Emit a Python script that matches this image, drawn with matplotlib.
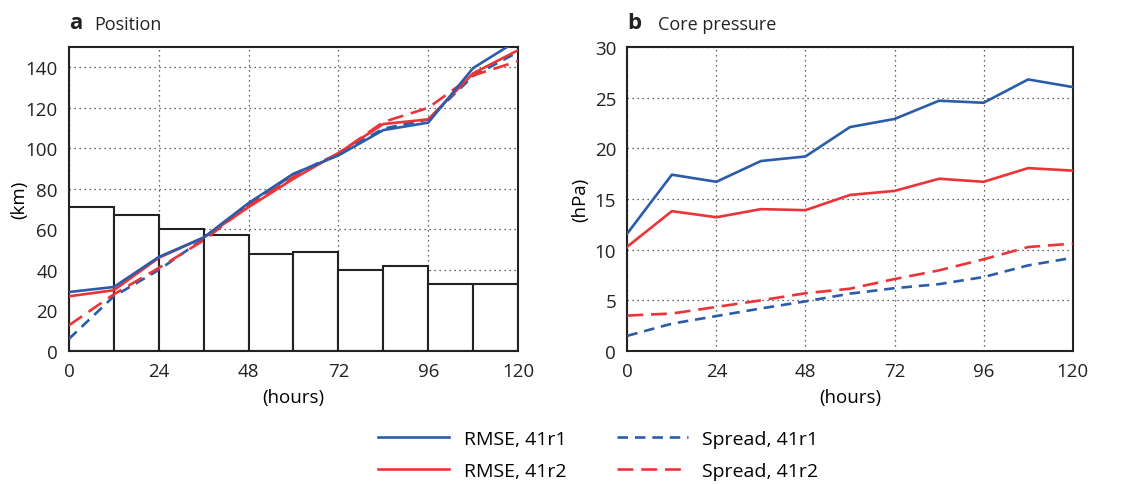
import numpy as np
import matplotlib
matplotlib.use('Agg')
import matplotlib.pyplot as plt

plt.rcParams['font.family'] = ['Open Sans', 'DejaVu Sans']

hours = [0, 12, 24, 36, 48, 60, 72, 84, 96, 108, 120]

# panel a: position error (km)
bar_left = [0, 12, 24, 36, 48, 60, 72, 84, 96, 108]
bar_height = [71, 67, 60, 57, 48, 49, 40, 42, 33, 33]
pos_rmse_41r1 = [29.1, 31.6, 46.4, 56, 73, 87.5, 96.5, 109, 112.7, 139.6, 153.4]
pos_rmse_41r2 = [27, 30, 46, 56, 71, 85, 97.7, 112, 114.3, 137, 148.4]
pos_spread_41r1 = [6, 27, 40, 55.4, 72.7, 87, 97.4, 109.7, 114.3, 135.7, 147.5]
pos_spread_41r2 = [12.7, 28, 41, 54.6, 71.9, 85.9, 97.4, 113, 120, 136, 143]

# panel b: core pressure error (hPa)
prs_rmse_41r1 = [11.6, 17.4, 16.7, 18.75, 19.2, 22.1, 22.9, 24.7, 24.5, 26.8, 26.05]
prs_rmse_41r2 = [10.3, 13.8, 13.2, 14.0, 13.9, 15.4, 15.8, 17.0, 16.7, 18.05, 17.8]
prs_spread_41r1 = [1.5, 2.7, 3.45, 4.2, 4.9, 5.66, 6.2, 6.6, 7.3, 8.45, 9.2]
prs_spread_41r2 = [3.5, 3.7, 4.35, 5.0, 5.7, 6.15, 7.1, 7.96, 9.05, 10.26, 10.6]

blue = '#2a5caa'
red = '#ee3338'
lw = 1.9
blue_dash = (0, (4, 2.6))
red_dash = (0, (6, 3))

fig = plt.figure(figsize=(11.42, 4.85), dpi=100)
ax1 = fig.add_axes([0.0604, 0.2742, 0.3932, 0.6268])
ax2 = fig.add_axes([0.5493, 0.2742, 0.39, 0.6268])

ax1.bar(bar_left, bar_height, width=12, align='edge', facecolor='white',
        edgecolor='#222222', linewidth=1.5, zorder=2)
ax1.plot(hours, pos_spread_41r1, color=blue, lw=lw, ls=blue_dash, zorder=3)
ax1.plot(hours, pos_spread_41r2, color=red, lw=lw, ls=red_dash, zorder=3)
ax1.plot(hours, pos_rmse_41r2, color=red, lw=lw, zorder=4)
ax1.plot(hours, pos_rmse_41r1, color=blue, lw=lw, zorder=4)
ax1.set_ylim(0, 150)
ax1.set_yticks(range(0, 141, 20))
ax1.set_ylabel('(km)', fontsize=13.5, labelpad=-2)

l1, = ax2.plot(hours, prs_rmse_41r1, color=blue, lw=lw, zorder=4)
l2, = ax2.plot(hours, prs_rmse_41r2, color=red, lw=lw, zorder=4)
l3, = ax2.plot(hours, prs_spread_41r1, color=blue, lw=lw, ls=blue_dash, zorder=3)
l4, = ax2.plot(hours, prs_spread_41r2, color=red, lw=lw, ls=red_dash, zorder=3)
ax2.set_ylim(0, 30)
ax2.set_yticks(range(0, 31, 5))
ax2.set_ylabel('(hPa)', fontsize=13.5, labelpad=4)

for ax, letter, title, off in [(ax1, 'a', 'Position', 0.056),
                               (ax2, 'b', 'Core pressure', 0.07)]:
    ax.set_xlim(0, 120)
    ax.set_xticks(range(0, 121, 24))
    ax.grid(True, color='#333333', ls=(0, (1, 3)), lw=0.9, zorder=1)
    ax.set_axisbelow(True)
    ax.tick_params(length=0, labelsize=13.5, pad=8, colors='#222222')
    for s in ax.spines.values():
        s.set_linewidth(1.5)
        s.set_color('#222222')
    ax.set_xlabel('(hours)', fontsize=13.5, labelpad=6)
    ax.text(0.0, 1.045, letter, transform=ax.transAxes, fontsize=16,
            fontweight='bold', va='bottom', ha='left', color='#222222')
    ax.text(off, 1.045, title, transform=ax.transAxes,
            fontsize=13, va='bottom', ha='left', color='#222222')

fig.legend([l1, l2, l3, l4],
           ['RMSE, 41r1', 'RMSE, 41r2', 'Spread, 41r1', 'Spread, 41r2'],
           loc='center', bbox_to_anchor=(0.524, 0.06), ncol=2, frameon=False,
           fontsize=14, handlelength=3.65, handletextpad=0.75,
           columnspacing=2.6, labelspacing=0.72)

plt.savefig('out.png', dpi=100)
